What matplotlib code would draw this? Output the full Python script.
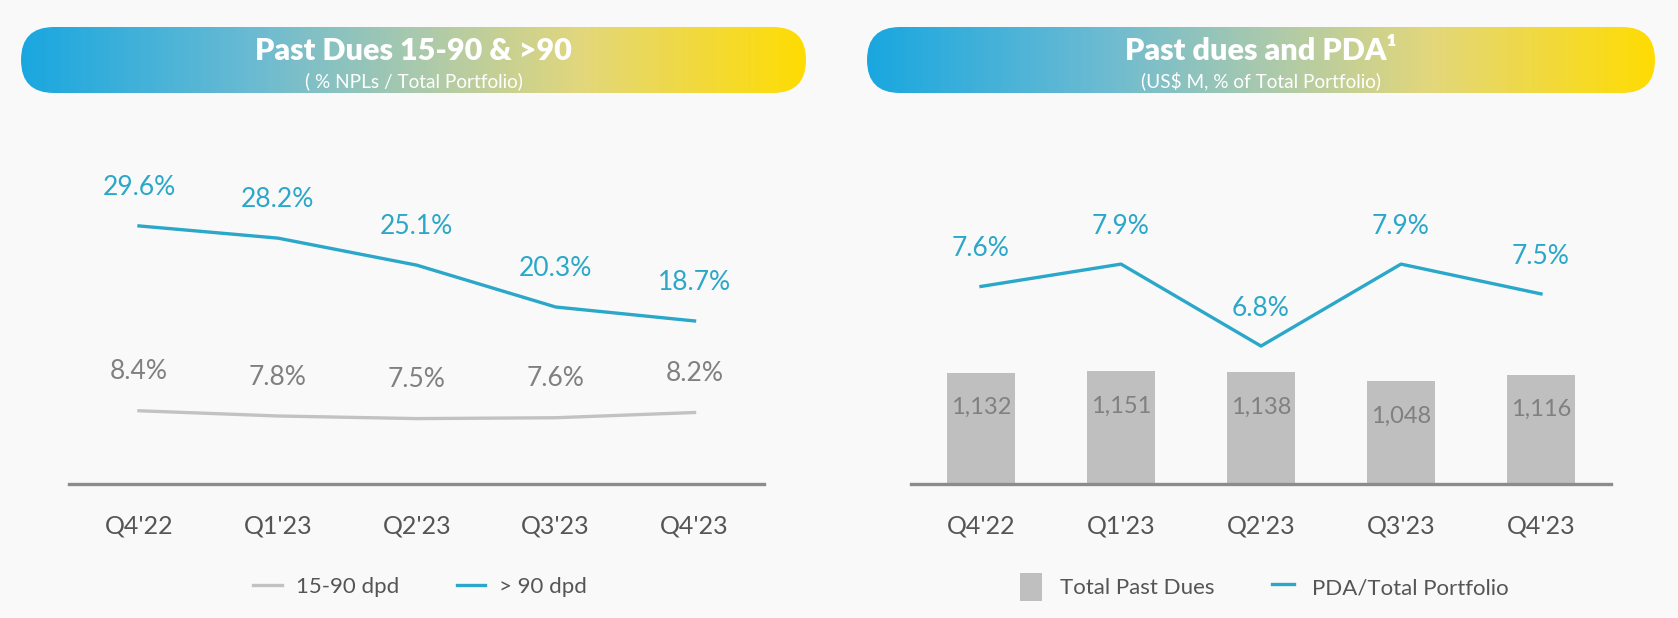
import numpy as np
import matplotlib
matplotlib.use("Agg")
import matplotlib.pyplot as plt
from matplotlib.patches import FancyBboxPatch
from matplotlib.colors import LinearSegmentedColormap

plt.rcParams['font.family'] = ['Lato', 'DejaVu Sans']

# data
quarters = ["Q4'22", "Q1'23", "Q2'23", "Q3'23", "Q4'23"]
dpd_15_90 = [8.4, 7.8, 7.5, 7.6, 8.2]
dpd_90 = [29.6, 28.2, 25.1, 20.3, 18.7]
past_dues = [1132, 1151, 1138, 1048, 1116]
pda = [7.6, 7.9, 6.8, 7.9, 7.5]

# colours
bg = '#f9f9f9'
blue = '#2aa7c9'
light_grey = '#c2c2c2'
label_grey = '#808080'
tick_grey = '#555555'
axis_grey = '#8c8c8c'

W, H = 1678, 618
fig = plt.figure(figsize=(W / 100, H / 100), dpi=100)
fig.patch.set_facecolor(bg)

grad = LinearSegmentedColormap.from_list(
    'pill', [(0, '#19a7e0'), (0.3, '#6cbbd2'), (0.5, '#a8c9ae'),
             (0.72, '#e3d77a'), (1, '#ffdc02')])


def header(x0, x1, title, subtitle):
    w = x1 - x0
    h = 66
    ax = fig.add_axes([x0 / W, (H - 93) / H, w / W, h / H])
    ax.set_xlim(0, w)
    ax.set_ylim(0, h)
    ax.axis('off')
    img = ax.imshow(np.linspace(0, 1, 256).reshape(1, -1), cmap=grad,
                    extent=[0, w, 0, h], aspect='auto')
    pill = FancyBboxPatch((0, 0), w, h, boxstyle='round,pad=0,rounding_size=33',
                          facecolor='none', edgecolor='none', transform=ax.transData)
    ax.add_patch(pill)
    img.set_clip_path(pill)
    ax.text(w / 2, 42, title, color='white', fontsize=22, fontweight='heavy',
            ha='center', va='center')
    ax.text(w / 2, 12, subtitle, color='white', fontsize=13.7,
            ha='center', va='center')


def style_axes(ax):
    ax.set_facecolor('none')
    for s in ['top', 'right', 'left']:
        ax.spines[s].set_visible(False)
    ax.spines['bottom'].set_color(axis_grey)
    ax.spines['bottom'].set_linewidth(2.4)
    ax.set_yticks([])
    ax.set_xlim(-0.5, 4.5)
    ax.set_xticks(range(len(quarters)))
    ax.set_xticklabels(quarters, fontsize=18, color=tick_grey)
    ax.tick_params(axis='x', length=0, pad=22)


header(21, 806, 'Past Dues 15-90 & >90', '( % NPLs / Total Portfolio)')
header(867, 1655, 'Past dues and PDA¹', '(US$ M, % of Total Portfolio)')

x = np.arange(len(quarters))

# left chart
ax1 = fig.add_axes([69.5 / W, 134 / H, 694.5 / W, 354 / H])
style_axes(ax1)
ax1.set_ylim(0, 40.6)
ax1.plot(x, dpd_15_90, color=light_grey, lw=2.4, label='15-90 dpd')
ax1.plot(x, dpd_90, color=blue, lw=2.4, label='> 90 dpd')
for i in range(len(x)):
    ax1.annotate('%.1f%%' % dpd_15_90[i], (x[i], dpd_15_90[i]), xytext=(0, 28),
                 textcoords='offset points', ha='center', va='center',
                 fontsize=19, color=label_grey)
    ax1.annotate('%.1f%%' % dpd_90[i], (x[i], dpd_90[i]), xytext=(0, 28),
                 textcoords='offset points', ha='center', va='center',
                 fontsize=19, color=blue)
ax1.legend(loc='center', bbox_to_anchor=(420 / W, 31 / H), bbox_transform=fig.transFigure,
           ncol=2, frameon=False, fontsize=16, labelcolor=tick_grey,
           handlelength=1.3, columnspacing=2.6, handletextpad=0.6)

# right chart
ax2 = fig.add_axes([911 / W, 134 / H, 700 / W, 354 / H])
style_axes(ax2)
ax2.set_ylim(0, 3610)
bars = ax2.bar(x, past_dues, width=0.485, color='#bfbfbf', label='Total Past Dues')
for i in range(len(x)):
    ax2.annotate('{:,}'.format(past_dues[i]), (x[i], past_dues[i]), xytext=(0, -25),
                 textcoords='offset points', ha='center', va='center',
                 fontsize=17, color=label_grey)

ax3 = ax2.twinx()
ax3.set_ylim(4.948, 9.70)
ax3.axis('off')
ln, = ax3.plot(x, pda, color=blue, lw=2.4, label='PDA/Total Portfolio')
for i in range(len(x)):
    ax3.annotate('%.1f%%' % pda[i], (x[i], pda[i]), xytext=(0, 27),
                 textcoords='offset points', ha='center', va='center',
                 fontsize=19, color=blue)
ax2.legend([bars, ln], ['Total Past Dues', 'PDA/Total Portfolio'], loc='center',
           bbox_to_anchor=(1264 / W, 31 / H), bbox_transform=fig.transFigure,
           ncol=2, frameon=False, fontsize=16, labelcolor=tick_grey,
           handlelength=1.0, handleheight=1.6, columnspacing=2.6, handletextpad=0.8)

fig.savefig('out.png', dpi=100, facecolor=bg)
